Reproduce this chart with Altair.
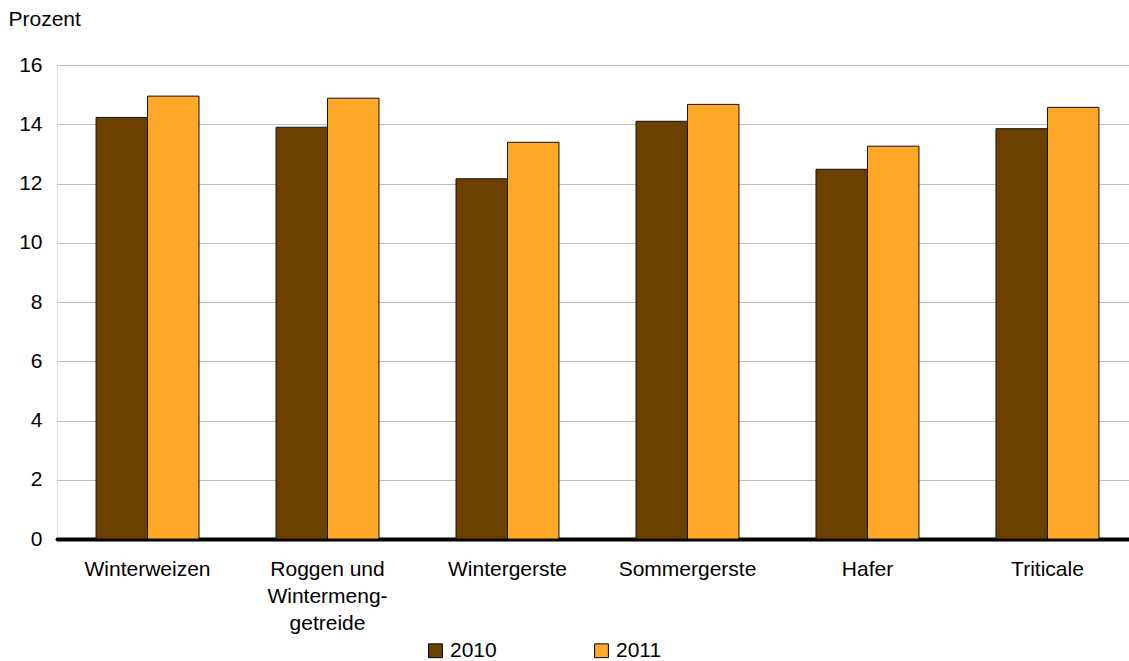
import altair as alt
import pandas as pd

# Grain categories (| marks a line break in the axis label)
categories = [
    "Winterweizen",
    "Roggen und|Wintermeng-|getreide",
    "Wintergerste",
    "Sommergerste",
    "Hafer",
    "Triticale",
]
years = ["2010", "2011"]
values_2010 = [14.23, 13.90, 12.16, 14.10, 12.48, 13.85]
values_2011 = [14.95, 14.88, 13.39, 14.67, 13.26, 14.57]
colors = ["#6C4100", "#FFA726"]

rows = []
for cat, v10, v11 in zip(categories, values_2010, values_2011):
    rows.append({"Kategorie": cat, "Jahr": "2010", "Wert": v10})
    rows.append({"Kategorie": cat, "Jahr": "2011", "Wert": v11})
df = pd.DataFrame(rows)

FONT = "Liberation Sans"
FS = 21

bars = alt.Chart(df).mark_bar(stroke="#111111", strokeWidth=1).encode(
    x=alt.X(
        "Kategorie:N",
        sort=categories,
        scale=alt.Scale(paddingInner=0.428, paddingOuter=0.192, align=0.565),
        axis=alt.Axis(
            title=None,
            labelAngle=0,
            labelExpr="split(datum.label, '|')",
            labelFont=FONT,
            labelFontSize=FS,
            labelColor="#000000",
            labelLineHeight=27,
            labelPadding=19,
            labelBaseline="top",
            ticks=False,
            domainColor="#000000",
            domainWidth=4,
            domainCap="round",
            grid=False,
        ),
    ),
    xOffset=alt.XOffset(
        "Jahr:N", sort=years, scale=alt.Scale(paddingInner=0, paddingOuter=0)
    ),
    y=alt.Y(
        "Wert:Q",
        scale=alt.Scale(domain=[0, 16], nice=False),
        axis=alt.Axis(
            title="Prozent",
            titleAngle=0,
            titleAlign="left",
            titleBaseline="top",
            titleX=-49,
            titleY=-57,
            titleFont=FONT,
            titleFontSize=FS,
            titleFontWeight="normal",
            titleColor="#000000",
            values=[0, 2, 4, 6, 8, 10, 12, 14, 16],
            labelFont=FONT,
            labelFontSize=FS,
            labelColor="#000000",
            labelPadding=15,
            ticks=False,
            domain=False,
            grid=True,
            gridColor="#BFBFBF",
            gridWidth=1,
        ),
    ),
    color=alt.Color(
        "Jahr:N",
        sort=years,
        scale=alt.Scale(domain=years, range=colors),
        legend=alt.Legend(
            title=None,
            orient="none",
            legendX=368,
            legendY=575,
            direction="horizontal",
            symbolType="square",
            symbolSize=190,
            symbolStrokeColor="#000000",
            symbolStrokeWidth=1,
            labelFont=FONT,
            labelFontSize=FS,
            labelColor="#000000",
            labelOffset=4,
            columnPadding=94,
            padding=0,
        ),
    ),
)

chart = bars.properties(
    width=1072,
    height=474,
    autosize=alt.AutoSizeParams(type="none"),
    padding={"left": 57, "top": 65, "right": 0, "bottom": 122},
).configure_view(stroke=None).configure(background="#FFFFFF")

chart.save("out.html", embed_options={"renderer": "svg", "actions": False})
